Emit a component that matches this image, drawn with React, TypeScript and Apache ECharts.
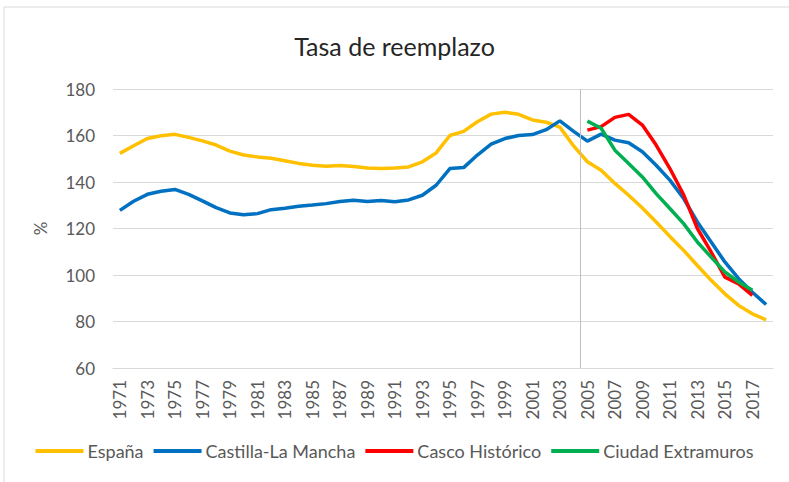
import React, { useEffect, useRef } from "react";
import * as echarts from "echarts";

const years = [
  "1971", "1972", "1973", "1974", "1975", "1976", "1977", "1978", "1979", "1980",
  "1981", "1982", "1983", "1984", "1985", "1986", "1987", "1988", "1989", "1990",
  "1991", "1992", "1993", "1994", "1995", "1996", "1997", "1998", "1999", "2000",
  "2001", "2002", "2003", "2004", "2005", "2006", "2007", "2008", "2009", "2010",
  "2011", "2012", "2013", "2014", "2015", "2016", "2017", "2018",
];

const espana = [
  152.3, 155.6, 158.7, 159.9, 160.5, 159.2, 157.7, 155.9, 153.3, 151.6,
  150.8, 150.2, 149.1, 148.0, 147.2, 146.8, 147.1, 146.7, 146.0, 145.8,
  146.0, 146.5, 148.7, 152.5, 160.0, 161.8, 165.9, 169.2, 170.0, 169.1,
  166.7, 165.7, 163.6, 155.5, 148.7, 145.1, 139.4, 134.3, 128.8, 122.8,
  116.6, 110.6, 104.1, 97.7, 91.9, 86.9, 83.3, 80.7,
];

const castillaLaMancha = [
  127.8, 131.7, 134.7, 136.0, 136.8, 134.7, 131.9, 129.0, 126.7, 125.9,
  126.4, 128.1, 128.7, 129.6, 130.1, 130.7, 131.6, 132.1, 131.6, 132.0,
  131.5, 132.3, 134.3, 138.6, 145.8, 146.2, 151.6, 156.3, 158.7, 160.0,
  160.4, 162.5, 166.3, 161.8, 157.6, 160.6, 158.0, 156.9, 153.0, 147.2,
  140.8, 132.9, 122.8, 114.2, 105.6, 98.4, 92.6, 87.3,
];

const cascoHistorico = [
  null, null, null, null, null, null, null, null, null, null,
  null, null, null, null, null, null, null, null, null, null,
  null, null, null, null, null, null, null, null, null, null,
  null, null, null, null, 162.3, 163.8, 167.8, 169.1, 164.5, 155.9,
  145.8, 134.5, 120.0, 109.9, 99.1, 96.2, 91.2, null,
];

const ciudadExtramuros = [
  null, null, null, null, null, null, null, null, null, null,
  null, null, null, null, null, null, null, null, null, null,
  null, null, null, null, null, null, null, null, null, null,
  null, null, null, null, 166.2, 163.1, 153.7, 148.0, 142.2, 135.0,
  128.6, 122.1, 114.2, 107.7, 101.3, 97.0, 93.4, null,
];

const seriesNames = ["España", "Castilla-La Mancha", "Casco Histórico", "Ciudad Extramuros"];
const seriesColors = ["#FFC000", "#0070C0", "#FF0000", "#00B050"];
const dividerYear = 2004.5;

const FONT = "Lato, 'Noto Sans', sans-serif";

export default function App() {
  const ref = useRef<HTMLDivElement>(null);

  useEffect(() => {
    const chart = echarts.init(ref.current!, null, { renderer: "svg" });
    const dataSets = [espana, castillaLaMancha, cascoHistorico, ciudadExtramuros];
    const lineSeries = dataSets.map((d, i) => ({
      name: seriesNames[i],
      type: "line",
      data: d,
      xAxisIndex: 0,
      yAxisIndex: 0,
      showSymbol: false,
      symbol: "none",
      smooth: false,
      connectNulls: false,
      lineStyle: { color: seriesColors[i], width: 3.5 },
      itemStyle: { color: seriesColors[i] },
      z: 3 + i,
    }));

    chart.setOption({
      animation: false,
      backgroundColor: "#ffffff",
      textStyle: { fontFamily: FONT },
      title: {
        text: "Tasa de reemplazo",
        left: "center",
        top: 28,
        textStyle: { fontFamily: FONT, fontSize: 25, fontWeight: "normal", color: "#262626" },
      },
      graphic: [
        {
          type: "rect",
          shape: { x: 4, y: 7, width: 800, height: 500 },
          style: { fill: "none", stroke: "#d9d9d9", lineWidth: 1 },
          silent: true,
        },
      ],
      legend: {
        data: seriesNames,
        bottom: 17,
        left: "center",
        icon: "rect",
        itemWidth: 48,
        itemHeight: 4,
        itemGap: 10,
        textStyle: { fontFamily: FONT, fontSize: 18, color: "#595959", padding: [0, 0, 0, -1] },
      },
      grid: { left: 113, right: 16, top: 89, bottom: 114, containLabel: false },
      xAxis: [
        {
          type: "category",
          data: years,
          boundaryGap: true,
          axisLine: { show: true, lineStyle: { color: "#d9d9d9", width: 1 } },
          axisTick: { show: false },
          axisLabel: {
            interval: 1,
            rotate: 90,
            margin: 12,
            fontFamily: FONT,
            fontSize: 17,
            color: "#595959",
          },
          splitLine: { show: false },
        },
        {
          type: "value",
          show: false,
          min: 1970.5,
          max: 2018.5,
          splitLine: { show: false },
        },
      ],
      yAxis: {
        type: "value",
        min: 60,
        max: 180,
        interval: 20,
        name: "%",
        nameLocation: "middle",
        nameGap: 64,
        nameRotate: 90,
        nameTextStyle: { fontFamily: FONT, fontSize: 17, color: "#595959" },
        axisLine: { show: false },
        axisTick: { show: false },
        axisLabel: { fontFamily: FONT, fontSize: 17, color: "#595959", margin: 18 },
        splitLine: { show: true, lineStyle: { color: "#d9d9d9", width: 1 } },
      },
      series: [
        ...lineSeries,
        {
          name: "divider",
          type: "line",
          xAxisIndex: 1,
          yAxisIndex: 0,
          data: [],
          silent: true,
          markLine: {
            silent: true,
            symbol: "none",
            label: { show: false },
            lineStyle: { color: "#bfbfbf", width: 1, type: "solid" },
            data: [{ xAxis: dividerYear }],
          },
        },
      ],
    });

    return () => chart.dispose();
  }, []);

  return (
    <div
      ref={ref}
      style={{ position: "fixed", left: 0, top: 0, width: 789, height: 482, background: "#fff" }}
    />
  );
}
